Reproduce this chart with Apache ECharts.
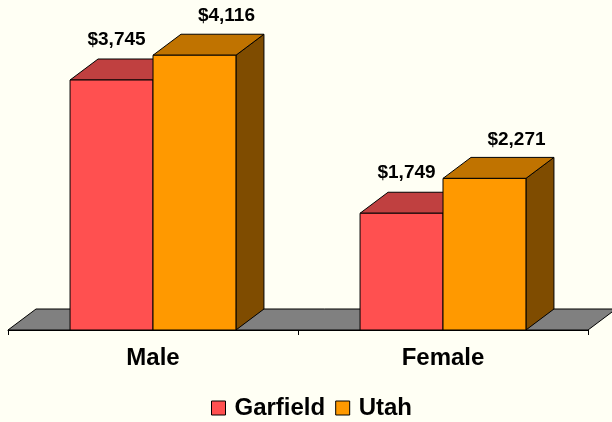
<!DOCTYPE html>
<html>
<head>
<meta charset="utf-8">
<script src="https://cdn.jsdelivr.net/npm/echarts@6/dist/echarts.min.js"></script>
<style>
html,body{margin:0;padding:0;background:#FFFFF4;}
#chart{width:612px;height:422px;}
</style>
</head>
<body>
<div id="chart"></div>
<script>
const categories = ['Male', 'Female'];
const seriesNames = ['Garfield', 'Utah'];
const garfieldValues = [3745, 1749];
const utahValues = [4116, 2271];

const frontColors = ['#FF5050', '#FF9900'];
const topColors = ['#C04040', '#C07300'];
const sideColors = ['#7F2828', '#7F4C00'];
const labelShift = [5, 32];
const labelRise = [40, 39];
const DX = 28, DY = 21;

function fmt(v) { return '$' + v.toLocaleString('en-US'); }

function makeBarRender(si) {
  return function (params, api) {
    const cat = api.value(0), val = api.value(1);
    const p0 = api.coord([cat, 0]);
    const p1 = api.coord([cat, val]);
    const catW = api.size([1, 0])[0];
    const w = catW * 0.286;
    const left = si === 0 ? p0[0] - w : p0[0];
    const right = left + w;
    const bottom = p0[1], top = p1[1];
    const ls = {stroke: '#000', lineWidth: 1};
    return {
      type: 'group',
      children: [
        {type: 'polygon', shape: {points: [[right, top], [right + DX, top - DY], [right + DX, bottom - DY], [right, bottom]]},
         style: Object.assign({fill: sideColors[si]}, ls)},
        {type: 'polygon', shape: {points: [[left, top], [left + DX, top - DY], [right + DX, top - DY], [right, top]]},
         style: Object.assign({fill: topColors[si]}, ls)},
        {type: 'rect', shape: {x: left, y: top, width: w, height: bottom - top},
         style: Object.assign({fill: frontColors[si]}, ls)},
        {type: 'text', x: left + w / 2 + labelShift[si], y: top - labelRise[si],
         style: {text: fmt(val), fill: '#000', font: 'bold 19px Arial, "Liberation Sans", sans-serif',
                 align: 'center', verticalAlign: 'middle'}}
      ]
    };
  };
}

const barSeries = [garfieldValues, utahValues].map(function (vals, si) {
  return {
    name: seriesNames[si],
    type: 'custom',
    z: 3 + si,
    itemStyle: {color: frontColors[si], borderColor: '#000', borderWidth: 1},
    encode: {x: 0, y: 1},
    data: vals.map(function (v, i) { return [i, v]; }),
    renderItem: makeBarRender(si)
  };
});

const floorSeries = {
  name: 'floor',
  type: 'custom',
  z: 1,
  silent: true,
  encode: {x: 0, y: 1},
  data: [[0, 0]],
  renderItem: function (params, api) {
    const cs = params.coordSys;
    const y = cs.y + cs.height;
    return {
      type: 'polygon',
      shape: {points: [[cs.x, y], [cs.x + DX, y - DY], [cs.x + cs.width + DX, y - DY], [cs.x + cs.width, y]]},
      style: {fill: '#808080', stroke: '#000', lineWidth: 1}
    };
  }
};

const chart = echarts.init(document.getElementById('chart'), null, {renderer: 'canvas'});
chart.setOption({
  backgroundColor: '#FFFFF4',
  animation: false,
  grid: {left: 8, right: 24, bottom: 92, top: 29.6, containLabel: false},
  xAxis: {
    type: 'category',
    data: categories,
    boundaryGap: true,
    axisLine: {show: true, lineStyle: {color: '#000', width: 1}},
    axisTick: {show: true, length: 5, lineStyle: {color: '#000'}},
    axisLabel: {margin: 16, color: '#000', fontSize: 24, fontWeight: 'bold', fontFamily: 'Arial, "Liberation Sans", sans-serif'},
    z: 10
  },
  yAxis: {type: 'value', min: 0, max: 4500, show: false, splitLine: {show: false}},
  legend: {
    data: seriesNames,
    bottom: 2,
    left: 211,
    padding: 0,
    itemWidth: 14,
    itemHeight: 14,
    itemGap: 10,
    icon: 'rect',
    itemStyle: {borderColor: '#000', borderWidth: 1},
    textStyle: {color: '#000', fontSize: 24, fontWeight: 'bold', fontFamily: 'Arial, "Liberation Sans", sans-serif', padding: [0, 0, 0, 4]}
  },
  series: [floorSeries].concat(barSeries)
});
</script>
</body>
</html>
